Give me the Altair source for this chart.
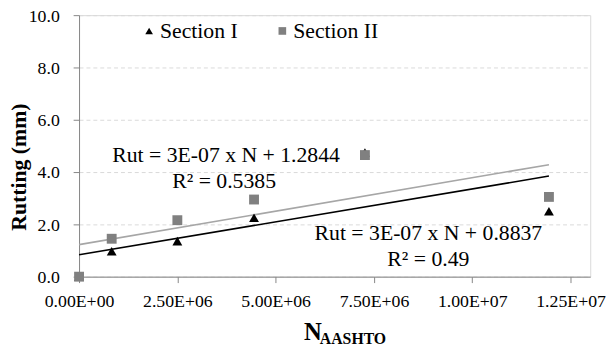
import altair as alt
import pandas as pd

# ---- data ----
n_values = [0, 0.83e6, 2.5e6, 4.45e6, 7.27e6, 11.95e6]
rut_section1 = [0, 0.97, 1.36, 2.25, 4.75, 2.50]
rut_section2 = [0, 1.45, 2.16, 2.95, 4.65, 3.05]
series = ["Section I", "Section II"]
x_ticks = [0, 2.5e6, 5e6, 7.5e6, 1e7, 1.25e7]
y_ticks = [0, 2, 4, 6, 8, 10]
equations = ["Rut = 3E-07 x N + 1.2844", "R\u00b2 = 0.5385",
             "Rut = 3E-07 x N + 0.8837", "R\u00b2 = 0.49"]
y_title = "Rutting (mm)"
x_title_main = "N"
x_title_sub = "AASHTO"

df = pd.DataFrame({
    "N": n_values * 2,
    "Rut": rut_section1 + rut_section2,
    "Section": [series[0]] * len(n_values) + [series[1]] * len(n_values),
})

FONT = "Liberation Serif"

x_label_expr = (
    "datum.value == 0 ? '0.00E+00' : "
    "format(datum.value / pow(10, floor(log(datum.value) / LN10 + 1e-9)), '.2f') + 'E+' + "
    "pad(toString(floor(log(datum.value) / LN10 + 1e-9)), 2, '0', 'left')"
)

xenc = alt.X("N:Q", scale=alt.Scale(domain=[0, 1.3e7], nice=False, zero=True),
             axis=alt.Axis(values=x_ticks, labelExpr=x_label_expr, grid=False, title=None,
                           labelPadding=10, labelFlush=False, labelOverlap=False))
yenc = alt.Y("Rut:Q", scale=alt.Scale(domain=[0, 10], nice=False),
             axis=alt.Axis(values=y_ticks, format=".1f", grid=True, gridDash=[4, 3],
                           gridColor="#d9d9d9", title=None, labelPadding=14, labelOffset=1,
                           labelFlush=False))

base = alt.Chart(df)

line1 = base.transform_filter(alt.datum.Section == series[0]).transform_regression(
    "N", "Rut").mark_line(color="black", strokeWidth=1.6).encode(x=xenc, y=yenc)
line2 = base.transform_filter(alt.datum.Section == series[1]).transform_regression(
    "N", "Rut").mark_line(color="#a6a6a6", strokeWidth=1.6).encode(x=xenc, y=yenc)

legend = alt.Legend(title=None, orient="none", legendX=60, legendY=5, direction="horizontal",
                    columns=2, columnPadding=34, labelFont=FONT, labelFontSize=22,
                    labelColor="black", symbolSize=60, symbolStrokeWidth=0, labelOffset=0,
                    padding=0)

points = base.mark_point(filled=True, size=100, opacity=1).encode(
    x=xenc, y=yenc,
    shape=alt.Shape("Section:N", scale=alt.Scale(domain=series, range=["triangle-up", "square"]),
                    legend=legend),
    color=alt.Color("Section:N", scale=alt.Scale(domain=series, range=["black", "#808080"]),
                    legend=legend),
)


def label(text, x, y, size=22, weight="normal", align="center", angle=0):
    return alt.Chart(pd.DataFrame({"t": [text]})).mark_text(
        font=FONT, fontSize=size, fontWeight=weight, align=align, baseline="alphabetic",
        angle=angle, color="black"
    ).encode(text="t:N", x=alt.value(x), y=alt.value(y))


eq1 = label(equations[0], 149, 148.5)
eq2 = label(equations[1], 147, 175)
eq3 = label(equations[2], 354, 227.5)
eq4 = label(equations[3], 354, 254)

ytitle = alt.Chart(pd.DataFrame({"t": [y_title]})).mark_text(
    font=FONT, fontSize=22, fontWeight="bold", angle=270, align="center", baseline="middle",
    color="black").encode(text="t:N", x=alt.value(-61), y=alt.value(154))
xt1 = label(x_title_main, 237, 329, size=25, weight="bold")
xt2 = label(x_title_sub, 244, 333, size=16, weight="bold", align="left")

chart = alt.layer(line1, line2, points, eq1, eq2, eq3, eq4, ytitle, xt1, xt2).properties(
    width=518, height=265,
    padding={"left": 72, "top": 5, "right": 18, "bottom": 68},
    autosize=alt.AutoSizeParams(type="none"),
).configure_view(stroke="#d9d9d9", strokeWidth=1).configure_axis(
    domainColor="#868686", tickColor="#868686", tickSize=6, labelFont=FONT,
    labelFontSize=18, labelColor="black", domainWidth=1, tickWidth=1
)

chart.save("out.html", embed_options={"renderer": "svg", "actions": False})
